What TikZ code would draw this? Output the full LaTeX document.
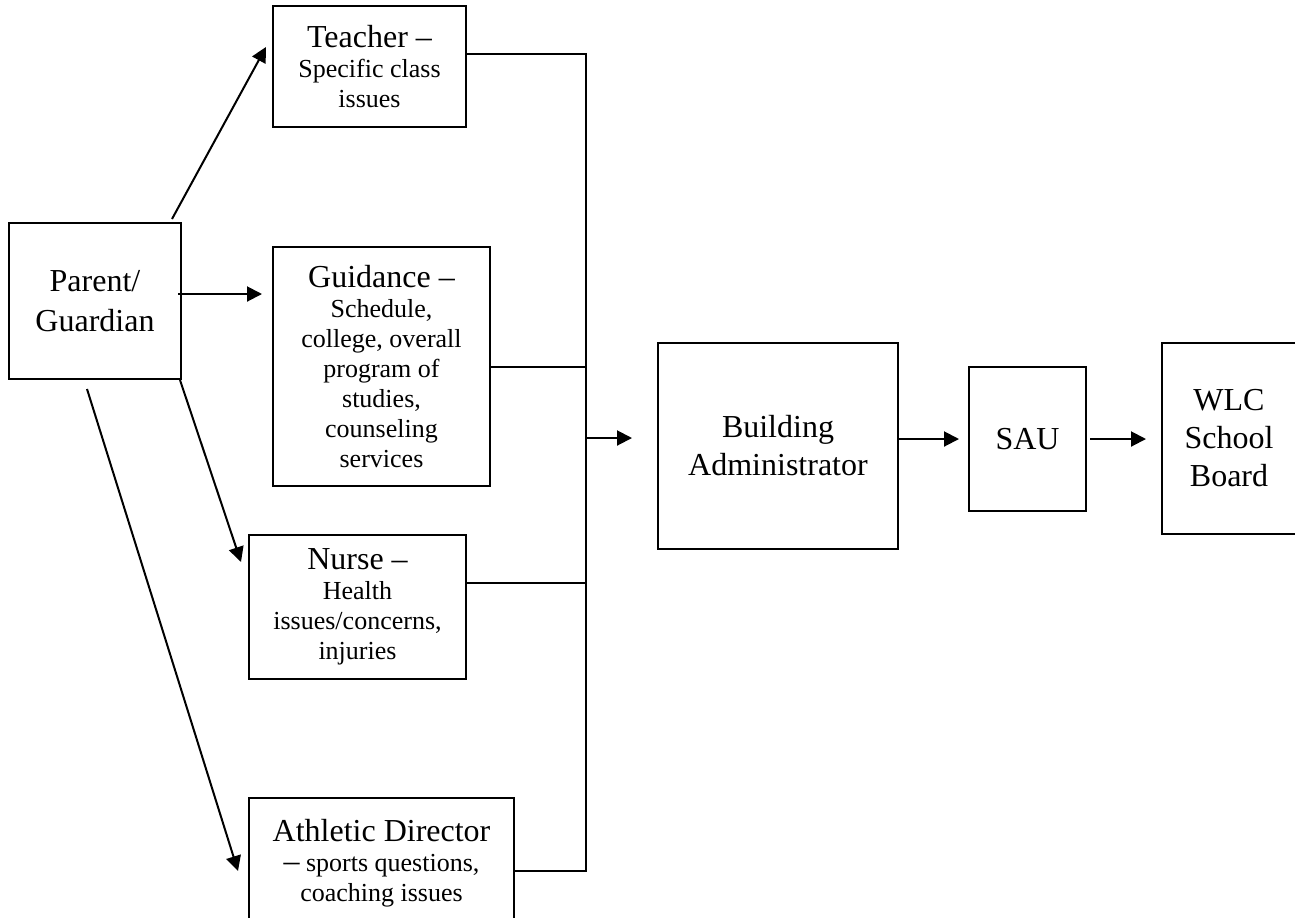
\documentclass[tikz,border=0pt]{standalone}
\usepackage{fontspec}
\setmainfont{Liberation Serif}
\usetikzlibrary{arrows.meta}
\newcommand{\bigtxt}{\fontsize{16}{19}\selectfont}
\newcommand{\smalltxt}{\fontsize{13}{15}\selectfont}

\begin{document}
\begin{tikzpicture}[x=0.5pt,y=-0.5pt,
  box/.style={draw,line width=1pt,rectangle,align=center,inner sep=0pt,font=\smalltxt},
  arr/.style={-{Triangle[length=7.5pt,width=7.5pt]},line width=1pt}]
\useasboundingbox (0,0) rectangle (1295,917);
\node[box,font=\bigtxt,minimum width=86pt,minimum height=78pt] (parent) at (95,301) {Parent/\\[1pt]Guardian};
\node[box,minimum width=96.5pt,minimum height=60.5pt] (teacher) at (369.5,66.5) {{\bigtxt Teacher –}\\Specific class\\issues};
\node[box,minimum width=108.5pt,minimum height=119.5pt] (guidance) at (381.5,366.5) {{\bigtxt Guidance –}\\Schedule,\\college, overall\\program of\\studies,\\counseling\\services};
\node[box,minimum width=108.5pt,minimum height=72pt] (nurse) at (357.5,607) {{\bigtxt Nurse –}\\Health\\issues/concerns,\\injuries};
\node[box,minimum width=132.5pt,minimum height=65pt] (athletic) at (381.5,863) {{\bigtxt Athletic Director}\\{\bigtxt –} sports questions,\\coaching issues};
\node[box,font=\bigtxt,minimum width=120pt,minimum height=103pt] (building) at (778,446) {Building\\Administrator};
\node[box,font=\bigtxt,minimum width=58.5pt,minimum height=72pt] (sau) at (1027.5,439) {SAU};
\node[box,font=\bigtxt,minimum width=67pt,minimum height=95.5pt] (wlc) at (1229,438.5) {WLC\\School\\Board};

\coordinate (busbot) at (586,871);
\coordinate (busin) at (586,438);

% parent to the four offices
\path[draw,arr] ([xshift=-5pt,yshift=1.5pt]parent.north east) -- ([xshift=-3pt,yshift=9.75pt]teacher.west);
\path[draw,arr] ([xshift=-2pt,yshift=3.5pt]parent.east) -- ([xshift=-5pt,yshift=36.25pt]guidance.west);
\path[draw,arr] ([xshift=-1pt]parent.south east) -- ([xshift=-3.5pt,yshift=22.5pt]nurse.west);
\path[draw,arr] ([xshift=-4pt,yshift=-4.5pt]parent.south) -- ([xshift=-5pt,yshift=-4pt]athletic.west);

% offices to the bus line
\path[draw,line width=1pt] ([yshift=6.25pt]teacher.east) -| (busbot) -- ([yshift=-4pt]athletic.east);
\path[draw,line width=1pt] (guidance.east) -- (guidance.east -| busbot);
\path[draw,line width=1pt] ([yshift=12pt]nurse.east) -- ([yshift=12pt]nurse.east -| busbot);

% up the chain
\path[draw,arr,shorten >=12.5pt] (busin) -- (busin -| building.west);
\path[draw,arr,shorten >=4.5pt] (building.east |- sau) -- (sau.west);
\path[draw,arr,shorten <=1.5pt,shorten >=7.5pt] (sau.east) -- (sau.east -| wlc.west);
\end{tikzpicture}
\end{document}
